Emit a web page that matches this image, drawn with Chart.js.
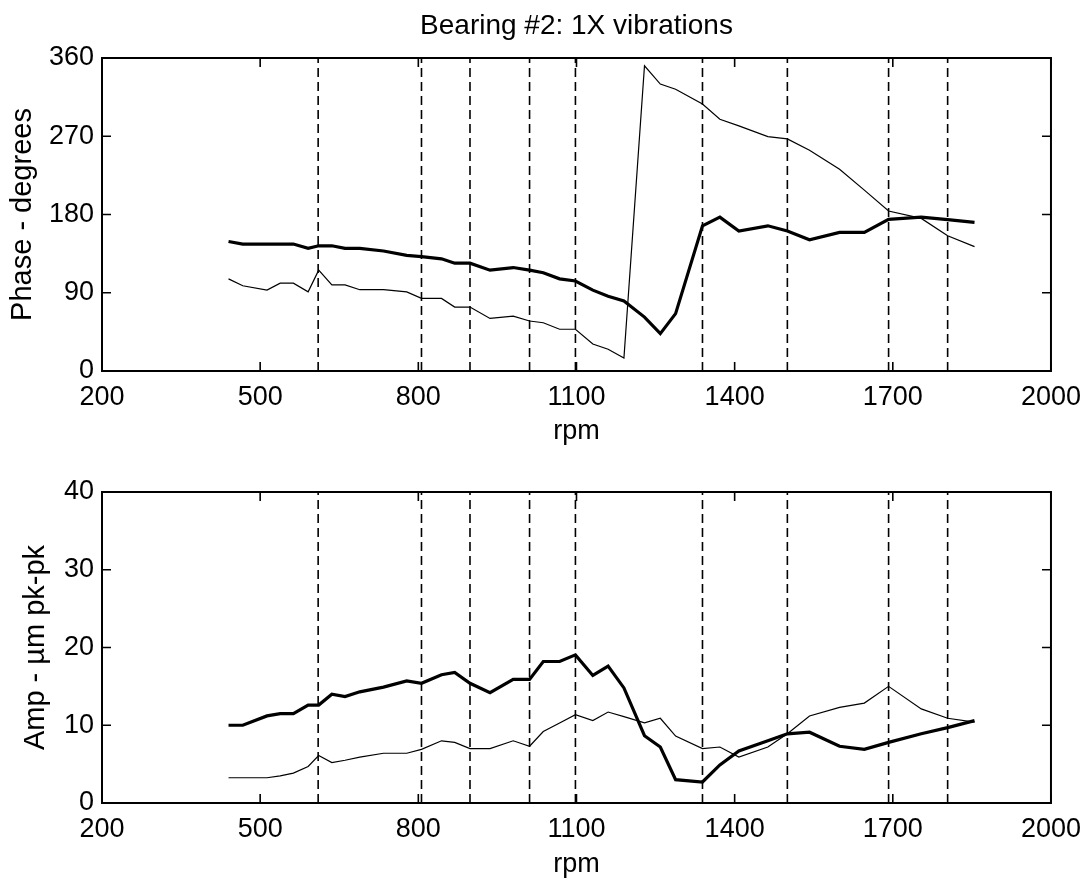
<!DOCTYPE html>
<html>
<head>
<meta charset="utf-8">
<title>Bearing #2: 1X vibrations</title>
<script src="https://cdn.jsdelivr.net/npm/chart.js@4.4.0/dist/chart.umd.min.js"></script>
<style>
  html, body { margin: 0; padding: 0; background: #fff; }
  #wrap { position: relative; width: 1091px; height: 883px; overflow: hidden; }
  canvas { position: absolute; left: 0; }
  #phaseChart { top: 0; }
  #ampChart { top: 441px; }
</style>
</head>
<body>
<div id="wrap">
  <canvas id="phaseChart" width="1091" height="470"></canvas>
  <canvas id="ampChart" width="1091" height="442"></canvas>
</div>
<script>
// ===== DATA =====
const rpm = [440, 467, 513, 538, 563, 591, 611, 636, 661, 689,
             734, 778, 806, 844, 869, 898, 936, 980, 1011, 1037,
             1068, 1098, 1131, 1160, 1190, 1229, 1259, 1288, 1339, 1372,
             1408, 1463, 1500, 1542, 1599, 1646, 1692, 1754, 1804, 1855];

// heavy trace
const phaseHeavy = [149, 146, 146, 146, 146, 141, 144, 144, 141, 141,
                    138, 133, 131.5, 129, 124, 124, 116, 119, 116, 113,
                    106, 103.5, 93, 86, 80.5, 62, 43, 66, 167, 177,
                    161, 167, 161, 151, 159.5, 159.5, 174.5, 177, 174, 171];
// light trace
const phaseLight = [106, 98, 93, 101, 101, 91, 116, 99, 99, 93.5,
                    93.5, 91, 83.5, 83.5, 73.5, 73.5, 60.5, 63, 57.5, 55.5,
                    48, 48, 31, 25, 15, 351, 330, 324, 307, 289.5,
                    282, 269.5, 267, 254, 232, 208, 184, 175.5, 155.5, 143];

const ampHeavy = [10, 10, 11.2, 11.5, 11.5, 12.6, 12.6, 14, 13.7, 14.3,
                  14.9, 15.7, 15.4, 16.5, 16.8, 15.4, 14.2, 15.9, 15.9, 18.2,
                  18.2, 19.05, 16.4, 17.6, 14.8, 8.65, 7.2, 3.0, 2.7, 4.9,
                  6.7, 8.0, 8.9, 9.1, 7.3, 6.9, 7.8, 8.9, 9.7, 10.6];
const ampLight = [3.25, 3.25, 3.25, 3.5, 3.85, 4.7, 6.1, 5.2, 5.5, 5.9,
                  6.4, 6.4, 6.9, 8.0, 7.8, 7.0, 7.0, 8.0, 7.3, 9.2,
                  10.3, 11.35, 10.6, 11.7, 11.1, 10.3, 10.9, 8.6, 7.0, 7.2,
                  5.9, 7.2, 8.9, 11.2, 12.3, 12.85, 15.0, 12.1, 10.9, 10.4];

// dashed reference speeds
const markerRpm = [610, 806, 898, 1011, 1098, 1339, 1500, 1692, 1804];

// tick labels
const rpmTicks = [200, 500, 800, 1100, 1400, 1700, 2000];
const phaseTicks = [0, 90, 180, 270, 360];
const ampTicks = [0, 10, 20, 30, 40];

// ===== STYLE =====
const FAMILY = '"Liberation Sans", Arial, Helvetica, sans-serif';
const FONT = { family: FAMILY, size: 27 };
const TICK_LEN = 9;

// box + inward ticks on all four sides (matlab look)
const framePlugin = {
    id: 'frame',
    afterDatasetsDraw(chart) {
        const { ctx, chartArea: a, scales } = chart;
        ctx.save();
        ctx.strokeStyle = '#000';
        ctx.lineWidth = 2;
        ctx.strokeRect(a.left, a.top, a.right - a.left, a.bottom - a.top);
        ctx.lineWidth = 1.6;
        ctx.beginPath();
        scales.x.ticks.forEach(t => {
            const px = scales.x.getPixelForValue(t.value);
            ctx.moveTo(px, a.bottom); ctx.lineTo(px, a.bottom - TICK_LEN);
            ctx.moveTo(px, a.top); ctx.lineTo(px, a.top + TICK_LEN);
        });
        scales.y.ticks.forEach(t => {
            const py = scales.y.getPixelForValue(t.value);
            ctx.moveTo(a.left, py); ctx.lineTo(a.left + TICK_LEN, py);
            ctx.moveTo(a.right, py); ctx.lineTo(a.right - TICK_LEN, py);
        });
        ctx.stroke();
        ctx.restore();
    }
};

function toPoints(xs, ys) {
    return xs.map((x, i) => ({ x: x, y: ys[i] }));
}

function markerSets(yMin, yMax) {
    return markerRpm.map(v => ({
        data: [{ x: v, y: yMin }, { x: v, y: yMax }],
        borderColor: '#000',
        borderWidth: 1.6,
        borderDash: [9, 5],
        pointRadius: 0
    }));
}

function makePanel(id, cfg) {
    const yMin = cfg.yTicks[0];
    const yMax = cfg.yTicks[cfg.yTicks.length - 1];
    return new Chart(document.getElementById(id), {
        type: 'line',
        data: {
            datasets: [
                { data: toPoints(rpm, cfg.heavy), borderColor: '#000', borderWidth: 3.2, pointRadius: 0, tension: 0 },
                { data: toPoints(rpm, cfg.light), borderColor: '#000', borderWidth: 1.2, pointRadius: 0, tension: 0 }
            ].concat(markerSets(yMin, yMax))
        },
        options: {
            responsive: false,
            animation: false,
            devicePixelRatio: 1,
            layout: { padding: { top: cfg.padTop, right: 39, left: 0, bottom: 0 } },
            plugins: {
                legend: { display: false },
                tooltip: { enabled: false },
                title: cfg.title ? {
                    display: true,
                    text: cfg.title,
                    fullSize: false,
                    color: '#000',
                    font: { family: FAMILY, size: 28, weight: 'normal' },
                    padding: { top: 9, bottom: 15.4 }
                } : { display: false }
            },
            scales: {
                x: {
                    type: 'linear',
                    min: 200,
                    max: 2000,
                    afterBuildTicks: s => { s.ticks = rpmTicks.map(v => ({ value: v })); },
                    afterFit: s => { s.height = cfg.xAxisH; },
                    ticks: { color: '#000', font: FONT, padding: 10, maxRotation: 0, autoSkip: false, callback: v => String(v) },
                    grid: { display: false, drawTicks: false },
                    border: { display: false },
                    title: { display: true, text: 'rpm', color: '#000', font: FONT, padding: { top: 0, bottom: cfg.xTitlePad } }
                },
                y: {
                    type: 'linear',
                    min: yMin,
                    max: yMax,
                    afterBuildTicks: s => { s.ticks = cfg.yTicks.map(v => ({ value: v })); },
                    afterFit: s => { s.width = 102; },
                    ticks: { color: '#000', font: FONT, padding: 8, autoSkip: false, callback: v => String(v) },
                    grid: { display: false, drawTicks: false },
                    border: { display: false },
                    title: { display: true, text: cfg.yLabel, color: '#000', font: { family: FAMILY, size: 29 }, padding: { top: cfg.yTitlePad, bottom: 0 } }
                }
            }
        },
        plugins: [framePlugin]
    });
}

// ===== INITIALIZE =====
makePanel('phaseChart', {
    heavy: phaseHeavy,
    light: phaseLight,
    yTicks: phaseTicks,
    yLabel: 'Phase - degrees',
    title: 'Bearing #2: 1X vibrations',
    padTop: 0,
    xAxisH: 99,
    xTitlePad: 22,
    yTitlePad: 6
});

makePanel('ampChart', {
    heavy: ampHeavy,
    light: ampLight,
    yTicks: ampTicks,
    yLabel: 'Amp - \u00b5m pk-pk',
    title: null,
    padTop: 51,
    xAxisH: 80,
    xTitlePad: 2,
    yTitlePad: 19
});
</script>
</body>
</html>
